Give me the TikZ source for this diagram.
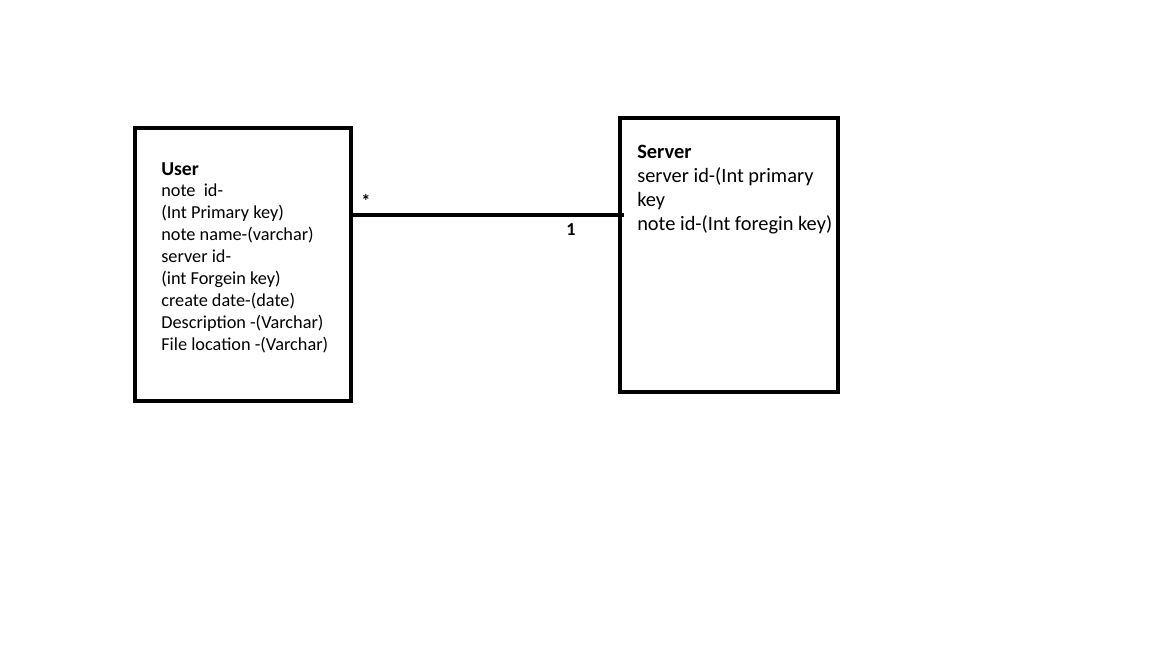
\documentclass[tikz,border=0pt]{standalone}
\usepackage{fontspec}
\setmainfont{Carlito}
\usetikzlibrary{positioning,calc}

\tikzset{
  entity/.style={draw=black, line width=3pt, inner sep=0pt},
  attrs/.style={anchor=north west, align=left, inner sep=0pt},
  link/.style={line width=2.8pt},
  mult/.style={font=\fontsize{13}{15}\selectfont\bfseries}
}

\begin{document}
\begin{tikzpicture}[x=0.025cm, y=-0.025cm]
  \useasboundingbox[fill=white] (0,0) rectangle (1152,648);
  %% entities
  \node[entity, minimum width=216*0.025cm, minimum height=273*0.025cm, anchor=north west]
    (user) at (133,126) {};
  \node[entity, minimum width=218*0.025cm, minimum height=274*0.025cm, anchor=north west]
    (server) at (618,116) {};
  %% attributes
  \node[attrs, font=\fontsize{13}{15.6}\selectfont] (usertext) at (161,162)
    {{\fontsize{14}{15.6}\selectfont\bfseries User}\\note\ \ id-\\(Int Primary key)\\note name-(varchar)\\server id-\\(int Forgein key)\\create date-(date)\\Description -(Varchar)\\File location -(Varchar)};
  \node[attrs, font=\fontsize{14.5}{17}\selectfont] (servertext) at (637,145)
    {\textbf{Server}\\server id-(Int primary\\key\\note id-(Int foregin key)};
  %% relation
  \coordinate (userport) at (user.east |- 0,215);
  \coordinate (serverport) at ($(server.west |- 0,215)+(6,0)$);
  \draw[link] (userport) -- (serverport);
  \node[mult] (many) at (366,201) {*};
  \node[mult] (one) at (571,230) {1};
\end{tikzpicture}
\end{document}
